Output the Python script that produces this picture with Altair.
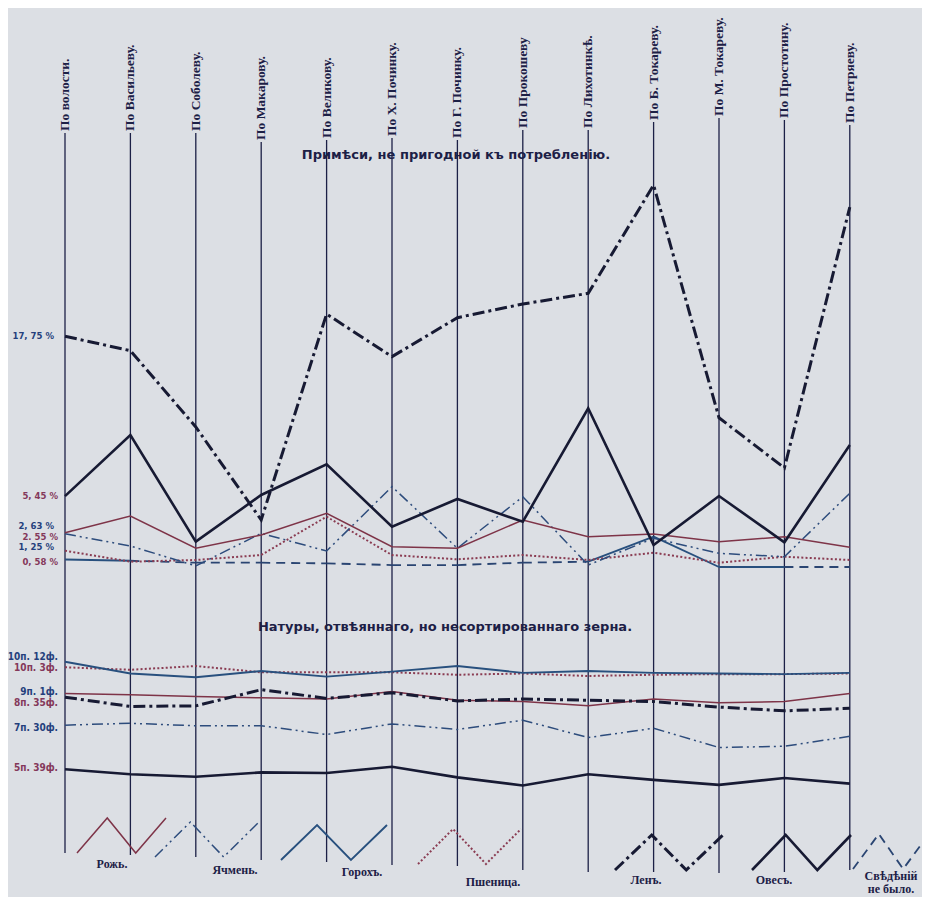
import altair as alt
import pandas as pd

# ---------------- data ----------------
DISTRICTS = ["По волости.", "По Васильеву.", "По Соболеву.", "По Макарову.", "По Великову.",
             "По Х. Починку.", "По Г. Починку.", "По Прокошеву", "По Лихотинкѣ.",
             "По Б. Токареву.", "По М. Токареву.", "По Простотину.", "По Петряеву."]

CROPS = ["Рожь.", "Ячмень.", "Горохъ.", "Пшеница.", "Ленъ.", "Овесъ."]

# admixture not fit for consumption, %
RYE_ADMIX = [2.63, 3.92, 1.44, 2.46, 4.13, 1.56, 1.44, 3.62, 2.33, 2.54, 1.95, 2.33, 1.52]
BARLEY_ADMIX = [2.55, 1.62, 0.08, 2.59, 1.23, 6.18, 1.44, 5.41, 0.15, 2.21, 1.05, 0.79, 5.67]
PEAS_ADMIX = [0.58, 0.48, 0.33, 0.33, 0.28, 0.15, 0.15, 0.33, 0.41, 2.33, 0.0, 0.0, 0.0]
PEAS_ADMIX_KNOWN = [1, 1, 0, 0, 0, 0, 0, 0, 1, 1, 1, 1, 0]
WHEAT_ADMIX = [1.25, 0.41, 0.54, 0.92, 3.87, 0.92, 0.59, 0.92, 0.54, 1.10, 0.33, 0.79, 0.54]
FLAX_ADMIX = [17.75, 16.64, 10.77, 3.62, 19.46, 16.18, 19.18, 20.23, 21.05, 29.38, 11.48, 7.62, 27.69]
OATS_ADMIX = [5.45, 10.15, 1.95, 5.54, 7.90, 3.10, 5.23, 3.48, 12.21, 1.69, 5.46, 1.90, 9.38]

# natural weight of winnowed grain, pounds (фунты)
RYE_NAT = [361, 359, 356, 354, 352, 364, 350, 348, 341, 352, 346, 348, 361]
BARLEY_NAT = [310, 313, 309, 309, 295, 312, 303, 318, 290, 305, 274, 276, 292]
PEAS_NAT = [412, 393, 387, 397, 388, 396, 405, 394, 397, 394, 393, 392, 394]
WHEAT_NAT = [403, 399, 405, 395, 395, 395, 391, 393, 389, 391, 392, 392, 393]
FLAX_NAT = [355, 340, 341, 367, 353, 362, 349, 352, 350, 348, 339, 333, 337]
OATS_NAT = [239, 231, 227, 234, 233, 243, 226, 213, 231, 222, 214, 225, 216]

UP_NOTES = ["17, 75 %", "5, 45 %", "2, 63 %", "2. 55 %", "1, 25 %", "0, 58 %"]
UP_NOTE_VALUES = [17.75, 5.45, 2.63, 2.55, 1.25, 0.58]
LOW_NOTES = ["10п. 12ф.", "10п. 3ф.", "9п. 1ф.", "8п. 35ф.", "7п. 30ф.", "5п. 39ф."]
LOW_NOTE_VALUES = [412, 403, 361, 355, 310, 239]

TITLE_UP = "Примѣси, не пригодной къ потребленію."
TITLE_LOW = "Натуры, отвѣяннаго, но несортированнаго зерна."
NODATA_LABEL = ["Свѣдѣній", "не было."]

# ---------------- layout & style ----------------
W, H = 914, 889
X0_PX, DX_PX = 57.0, 65.4
UP_ZERO_PX, UP_PX_PER_PCT = 559.0, 13.0
LOW_REF_PX, LOW_REF_F, LOW_PX_PER_F = 761.3, 239, 0.622

x_dom = [-X0_PX / DX_PX, (W - X0_PX) / DX_PX]
up_dom = [(UP_ZERO_PX - H) / UP_PX_PER_PCT, UP_ZERO_PX / UP_PX_PER_PCT]
low_dom = [LOW_REF_F - (H - LOW_REF_PX) / LOW_PX_PER_F, LOW_REF_F + LOW_REF_PX / LOW_PX_PER_F]

XS = alt.Scale(domain=x_dom, zero=False, nice=False)
UPS = alt.Scale(domain=up_dom, zero=False, nice=False)
LOWS = alt.Scale(domain=low_dom, zero=False, nice=False)

BG = "#dcdfe4"
INK = "#1c2046"
BLUE_NOTE = "#253f7c"
MAROON_NOTE = "#84385a"

STYLE = {
    "Рожь.": dict(color="#7e3448", strokeWidth=1.5),
    "Ячмень.": dict(color="#2d4c7c", strokeWidth=1.5, strokeDash=[11, 4, 2, 4, 2, 4]),
    "Горохъ.": dict(color="#28507e", strokeWidth=1.9),
    "Пшеница.": dict(color="#8a3c52", strokeWidth=2.0, strokeDash=[2, 2.2]),
    "Ленъ.": dict(color="#171a33", strokeWidth=3.0, strokeDash=[12, 4, 3, 4]),
    "Овесъ.": dict(color="#171a33", strokeWidth=2.6),
}
NODATA = dict(color="#2a4572", strokeWidth=1.8, strokeDash=[9, 6])

AXIS_TOP = [133, 133, 133, 142, 140, 138, 140, 130, 130, 122, 118, 120, 125]
AXIS_BOT = [853, 855, 857, 860, 862, 865, 866, 870, 872, 872, 873, 872, 870]

LEG_X0 = [77, 155, 281, 418, 615, 752, 853]
LEG_W = [89, 104, 106, 103, 108, 99, 76]
LEG_YLOW = [853, 857, 860, 864, 870, 870, 869]
LEG_H = 35
LEG_LBL_X = [112, 235, 362, 493, 646, 774, 891]
LEG_LBL_Y = [864, 870, 872, 882, 880, 880, 876]

layers = []

# vertical district lines
axes_df = pd.DataFrame({"i": list(range(len(DISTRICTS))), "name": DISTRICTS,
                        "top": [t - 8 for t in AXIS_TOP], "bot": [b - 8 for b in AXIS_BOT]})
layers.append(alt.Chart(axes_df).mark_rule(color=INK, strokeWidth=1.3).encode(
    x=alt.X("i:Q", scale=XS, axis=None),
    y=alt.Y("top:Q", scale=None), y2="bot:Q"))
layers.append(alt.Chart(axes_df).mark_text(
    angle=270, align="left", baseline="middle", font="Liberation Serif",
    fontSize=13.5, fontWeight="bold", color=INK, dx=2).encode(
    x=alt.X("i:Q", scale=XS, axis=None),
    y=alt.Y("top:Q", scale=None), text="name:N"))

# titles
layers.append(alt.Chart(pd.DataFrame({"t": [TITLE_UP]})).mark_text(
    font="DejaVu Sans", fontSize=13, fontWeight="bold", color=INK, align="center",
    baseline="middle").encode(x=alt.value(448), y=alt.value(147), text="t:N"))
layers.append(alt.Chart(pd.DataFrame({"t": [TITLE_LOW]})).mark_text(
    font="DejaVu Sans", fontSize=13, fontWeight="bold", color=INK, align="center",
    baseline="middle").encode(x=alt.value(437), y=alt.value(619), text="t:N"))


def series_layer(vals, crop, field, scale):
    df = pd.DataFrame({"i": list(range(len(vals))), field: vals})
    return alt.Chart(df).mark_line(strokeJoin="miter", **STYLE[crop]).encode(
        x=alt.X("i:Q", scale=XS, axis=None),
        y=alt.Y(f"{field}:Q", scale=scale, axis=None))


upper = {"Рожь.": RYE_ADMIX, "Ячмень.": BARLEY_ADMIX, "Пшеница.": WHEAT_ADMIX,
         "Ленъ.": FLAX_ADMIX, "Овесъ.": OATS_ADMIX}
lower = {"Рожь.": RYE_NAT, "Ячмень.": BARLEY_NAT, "Горохъ.": PEAS_NAT, "Пшеница.": WHEAT_NAT,
         "Ленъ.": FLAX_NAT, "Овесъ.": OATS_NAT}

# peas admixture: solid where known, dashed where no data
rows = []
for k in range(len(PEAS_ADMIX) - 1):
    kind = "known" if PEAS_ADMIX_KNOWN[k] and PEAS_ADMIX_KNOWN[k + 1] else "none"
    for j in (k, k + 1):
        rows.append({"i": j, "pct": PEAS_ADMIX[j], "seg": k, "kind": kind})
peas_df = pd.DataFrame(rows)
layers.append(alt.Chart(peas_df).transform_filter("datum.kind == 'none'").mark_line(**NODATA).encode(
    x=alt.X("i:Q", scale=XS, axis=None), y=alt.Y("pct:Q", scale=UPS, axis=None), detail="seg:N"))
layers.append(alt.Chart(peas_df).transform_filter("datum.kind == 'known'").mark_line(
    **STYLE["Горохъ."]).encode(
    x=alt.X("i:Q", scale=XS, axis=None), y=alt.Y("pct:Q", scale=UPS, axis=None), detail="seg:N"))

for crop in ["Пшеница.", "Ячмень.", "Рожь.", "Овесъ.", "Ленъ."]:
    layers.append(series_layer(upper[crop], crop, "pct", UPS))
for crop in ["Пшеница.", "Горохъ.", "Ячмень.", "Рожь.", "Овесъ.", "Ленъ."]:
    layers.append(series_layer(lower[crop], crop, "funt", LOWS))

# value notes at the first axis
UP_NUDGE = [0, 0, -7, 3, -4, 3]
LOW_NUDGE = [-5, 1, -1, 6, 3, -1]
for n, (txt, v) in enumerate(zip(UP_NOTES, UP_NOTE_VALUES)):
    layers.append(alt.Chart(pd.DataFrame({"t": [txt], "v": [v]})).mark_text(
        font="DejaVu Sans Condensed", fontSize=9.5, fontWeight="bold", align="right",
        baseline="middle", dy=UP_NUDGE[n], color=BLUE_NOTE if n % 2 == 0 else MAROON_NOTE).encode(
        x=alt.value(46 if n % 2 == 0 else 50), y=alt.Y("v:Q", scale=UPS, axis=None), text="t:N"))
for n, (txt, v) in enumerate(zip(LOW_NOTES, LOW_NOTE_VALUES)):
    layers.append(alt.Chart(pd.DataFrame({"t": [txt], "v": [v]})).mark_text(
        font="DejaVu Sans Condensed", fontSize=10, fontWeight="bold", align="right",
        baseline="middle", dy=LOW_NUDGE[n], color=BLUE_NOTE if n % 2 == 0 else MAROON_NOTE).encode(
        x=alt.value(50), y=alt.Y("v:Q", scale=LOWS, axis=None), text="t:N"))

# zig-zag legend
legend_items = CROPS + ["nodata"]
for n, item in enumerate(legend_items):
    x0, w, yl = LEG_X0[n] - 8, LEG_W[n], LEG_YLOW[n] - 8
    df = pd.DataFrame({"px": [x0, x0 + 0.34 * w, x0 + 0.66 * w, x0 + w],
                       "py": [yl, yl - LEG_H, yl, yl - LEG_H]})
    st = NODATA if item == "nodata" else STYLE[item]
    layers.append(alt.Chart(df).mark_line(strokeJoin="miter", **st).encode(
        x=alt.X("px:Q", scale=None), y=alt.Y("py:Q", scale=None)))
    if item != "nodata":
        lab = pd.DataFrame({"t": [item], "px": [LEG_LBL_X[n] - 8], "py": [LEG_LBL_Y[n] - 8]})
    else:
        lab = pd.DataFrame({"t": NODATA_LABEL, "px": [LEG_LBL_X[n] - 8] * 2,
                            "py": [LEG_LBL_Y[n] - 8, LEG_LBL_Y[n] + 5]})
    layers.append(alt.Chart(lab).mark_text(
        font="Liberation Serif", fontSize=12, fontWeight="bold", color=INK,
        align="center", baseline="middle").encode(
        x=alt.X("px:Q", scale=None), y=alt.Y("py:Q", scale=None), text="t:N"))

chart = alt.layer(*layers).resolve_scale(x="independent", y="independent").properties(
    width=W, height=H, padding=0, autosize="none", background=BG
).configure_view(stroke=None)

chart.save("out.html", embed_options={"renderer": "svg", "actions": False})
